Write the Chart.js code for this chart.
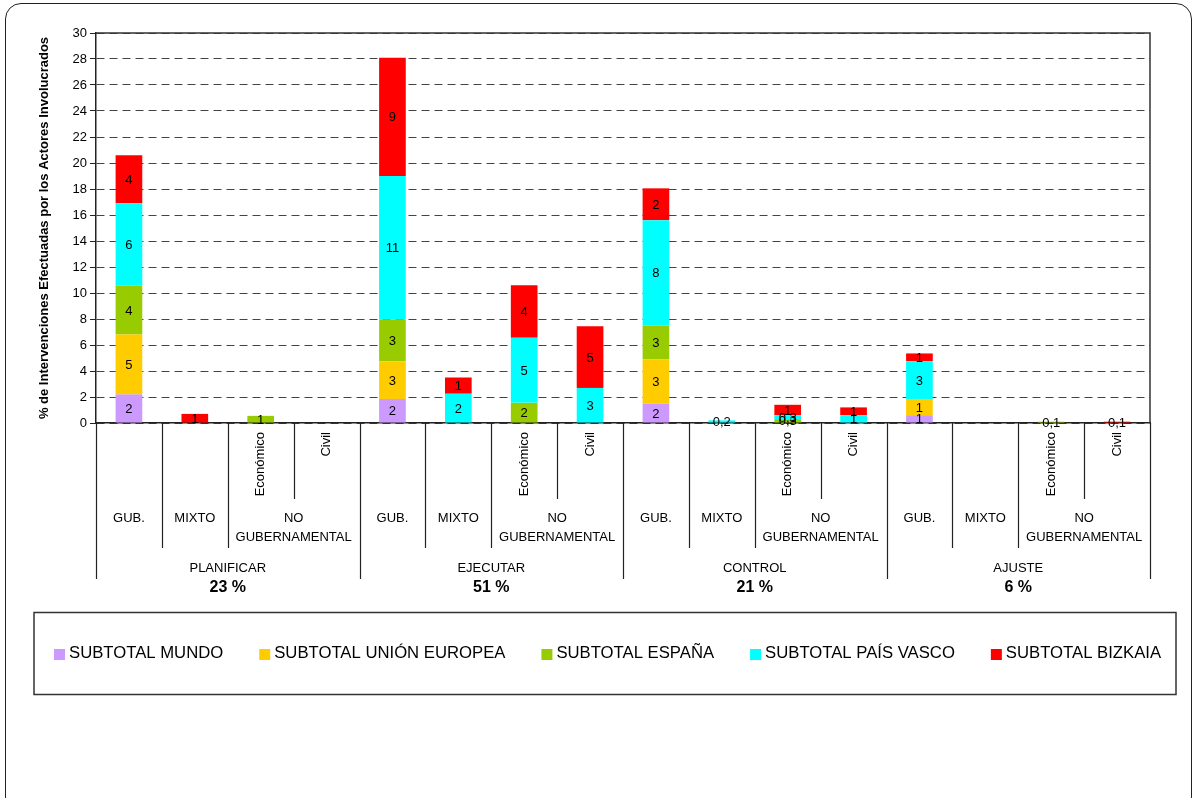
<!DOCTYPE html>
<html><head><meta charset="utf-8">
<script src="https://cdn.jsdelivr.net/npm/chart.js@4.4.0/dist/chart.umd.min.js"></script>
<style>
html,body{margin:0;padding:0;background:#fff;}
#wrap{position:relative;width:1194px;height:798px;overflow:hidden;background:#fff;}
#frame{position:absolute;left:5px;top:3px;width:1187px;height:810px;border:1.5px solid #222;border-radius:16px;box-sizing:border-box;}
canvas{position:absolute;left:0;top:0;}
</style></head><body>
<div id="wrap"><div id="frame"></div><canvas id="c" width="1194" height="798"></canvas></div>
<script>
// ---- data ----
const phases = ['PLANIFICAR', 'EJECUTAR', 'CONTROL', 'AJUSTE'];
const phaseShares = ['23 %', '51 %', '21 %', '6 %'];
const actorTypes = ['GUB.', 'MIXTO', 'NO GUBERNAMENTAL', 'NO GUBERNAMENTAL'];
const subTypes = ['', '', 'Económico', 'Civil'];
const seriesNames = ['SUBTOTAL MUNDO', 'SUBTOTAL UNIÓN EUROPEA', 'SUBTOTAL ESPAÑA', 'SUBTOTAL PAÍS VASCO', 'SUBTOTAL BIZKAIA'];
const seriesColors = ['#CC99FF', '#FFCC00', '#99CC00', '#00FFFF', '#FF0000'];
const yTicks = [0, 2, 4, 6, 8, 10, 12, 14, 16, 18, 20, 22, 24, 26, 28, 30];

const mundo   = [2.2, null, null, null,  1.85, null, null, null,  1.5, null, null, null,  0.6, null, null, null];
const ue      = [4.6, null, null, null,  2.9,  null, null, null,  3.4, null, null, null,  1.25, null, null, null];
const espana  = [3.75, null, 0.55, null, 3.2,  null, 1.55, null,  2.6, null, 0.3, null,   null, null, 0.1, null];
const paisVasco = [6.35, null, null, null, 11.05, 2.25, 5.0, 2.7,  8.1, 0.2, 0.3, 0.6,   2.9, null, null, null];
const bizkaia = [3.7, 0.7, null, null,   9.1, 1.25, 4.05, 4.75,   2.45, null, 0.8, 0.6,  0.6, null, null, 0.1];

const seriesValues = [mundo, ue, espana, paisVasco, bizkaia];
const labels = [];
phases.forEach(p => subTypes.forEach((s, i) => labels.push(p + ' ' + actorTypes[i] + ' ' + s)));

const FONT = "'Liberation Sans', Arial, sans-serif";

function fmt(v) {
  if (v < 0.5) return v.toFixed(1).replace('.', ',');
  return String(Math.round(v));
}

const valueLabels = {
  id: 'valueLabels',
  afterDatasetsDraw(chart) {
    const ctx = chart.ctx;
    ctx.save();
    ctx.font = '13px ' + FONT;
    ctx.fillStyle = '#000';
    ctx.textAlign = 'center';
    ctx.textBaseline = 'middle';
    chart.data.datasets.forEach((ds, di) => {
      const meta = chart.getDatasetMeta(di);
      meta.data.forEach((bar, i) => {
        const v = ds.data[i];
        if (v === null || v === undefined) return;
        ctx.fillText(fmt(v), bar.x, (bar.y + bar.base) / 2 + 1);
      });
    });
    ctx.restore();
  }
};

const axisDecor = {
  id: 'axisDecor',
  afterDraw(chart) {
    const ctx = chart.ctx;
    const xs = chart.scales.x;
    const ca = chart.chartArea;
    const colW = xs.getPixelForValue(1) - xs.getPixelForValue(0);
    const top = ca.bottom;
    ctx.save();
    // plot frame top & right
    ctx.strokeStyle = '#333';
    ctx.lineWidth = 1.5;
    ctx.beginPath();
    ctx.moveTo(ca.left, ca.top); ctx.lineTo(ca.right, ca.top); ctx.lineTo(ca.right, ca.bottom);
    ctx.stroke();

    ctx.strokeStyle = '#222';
    ctx.lineWidth = 1.2;
    const vline = (x, y2) => { ctx.beginPath(); ctx.moveTo(Math.round(x) + 0.5, top); ctx.lineTo(Math.round(x) + 0.5, y2); ctx.stroke(); };
    ctx.fillStyle = '#000';
    phases.forEach((p, g) => {
      const i0 = g * subTypes.length;
      const left = xs.getPixelForValue(i0) - colW / 2;
      vline(left, 579);
      if (g === phases.length - 1) vline(left + 4 * colW, 579);
      vline(left + colW, 548);
      vline(left + 2 * colW, 548);
      vline(left + 3 * colW, 499);
      // rotated sub-labels
      ctx.font = '13px ' + FONT;
      subTypes.forEach((s, k) => {
        if (!s) return;
        const cx = xs.getPixelForValue(i0 + k);
        ctx.save();
        ctx.translate(cx, 432);
        ctx.rotate(-Math.PI / 2);
        ctx.textAlign = 'right';
        ctx.textBaseline = 'middle';
        ctx.fillText(s, 0, 0);
        ctx.restore();
      });
      ctx.textAlign = 'center';
      ctx.textBaseline = 'middle';
      ctx.fillText(actorTypes[0], xs.getPixelForValue(i0), 518);
      ctx.fillText(actorTypes[1], xs.getPixelForValue(i0 + 1), 518);
      const ngx = (xs.getPixelForValue(i0 + 2) + xs.getPixelForValue(i0 + 3)) / 2;
      const parts = actorTypes[2].split(' ');
      ctx.fillText(parts[0], ngx, 518);
      ctx.fillText(parts[1], ngx, 537);
      const gx = left + 2 * colW;
      ctx.fillText(p, gx, 568);
      ctx.font = 'bold 16px ' + FONT;
      ctx.fillText(phaseShares[g], gx, 588);
    });

    // legend box
    ctx.strokeStyle = '#333';
    ctx.lineWidth = 1.5;
    ctx.strokeRect(34, 612.5, 1142, 82);
    ctx.font = '16.7px ' + FONT;
    ctx.textAlign = 'left';
    ctx.textBaseline = 'middle';
    let x = 54;
    chart.data.datasets.forEach(ds => {
      ctx.fillStyle = ds.backgroundColor;
      ctx.fillRect(x, 649, 11, 11);
      ctx.fillStyle = '#000';
      ctx.fillText(ds.label, x + 15, 653);
      x += 15 + ctx.measureText(ds.label).width + 36;
    });
    ctx.restore();
  }
};

new Chart(document.getElementById('c'), {
  type: 'bar',
  data: {
    labels: labels,
    datasets: seriesNames.map((n, i) => ({
      label: n,
      data: seriesValues[i],
      backgroundColor: seriesColors[i],
      borderWidth: 0,
      barPercentage: 0.405,
      categoryPercentage: 1.0
    }))
  },
  options: {
    responsive: false,
    animation: false,
    devicePixelRatio: 1,
    layout: { padding: { left: 33, top: 33, right: 44, bottom: 0 } },
    plugins: { legend: { display: false }, tooltip: { enabled: false } },
    scales: {
      x: {
        stacked: true,
        ticks: { display: false },
        grid: { display: false },
        border: { display: true, color: '#222', width: 1.5 },
        afterFit(s) { s.height = 375; }
      },
      y: {
        stacked: true,
        min: 0, max: 30,
        afterBuildTicks(s) { s.ticks = yTicks.map(v => ({ value: v })); },
        ticks: { font: { size: 13, family: FONT }, color: '#000', padding: 3 },
        grid: { color: '#444', lineWidth: 1, tickLength: 6, tickColor: '#222', tickBorderDash: [], drawTicks: true },
        border: { display: true, color: '#222', width: 1.5, dash: [8, 5] },
        title: { display: true, text: '% de Intervenciones Efectuadas por los Actores Involucrados',
                 font: { size: 13, weight: 'bold', family: FONT }, color: '#000', padding: { top: 4, bottom: 4 } },
        afterFit(s) { s.width = 63; }
      }
    }
  },
  plugins: [valueLabels, axisDecor]
});
</script>
</body></html>
